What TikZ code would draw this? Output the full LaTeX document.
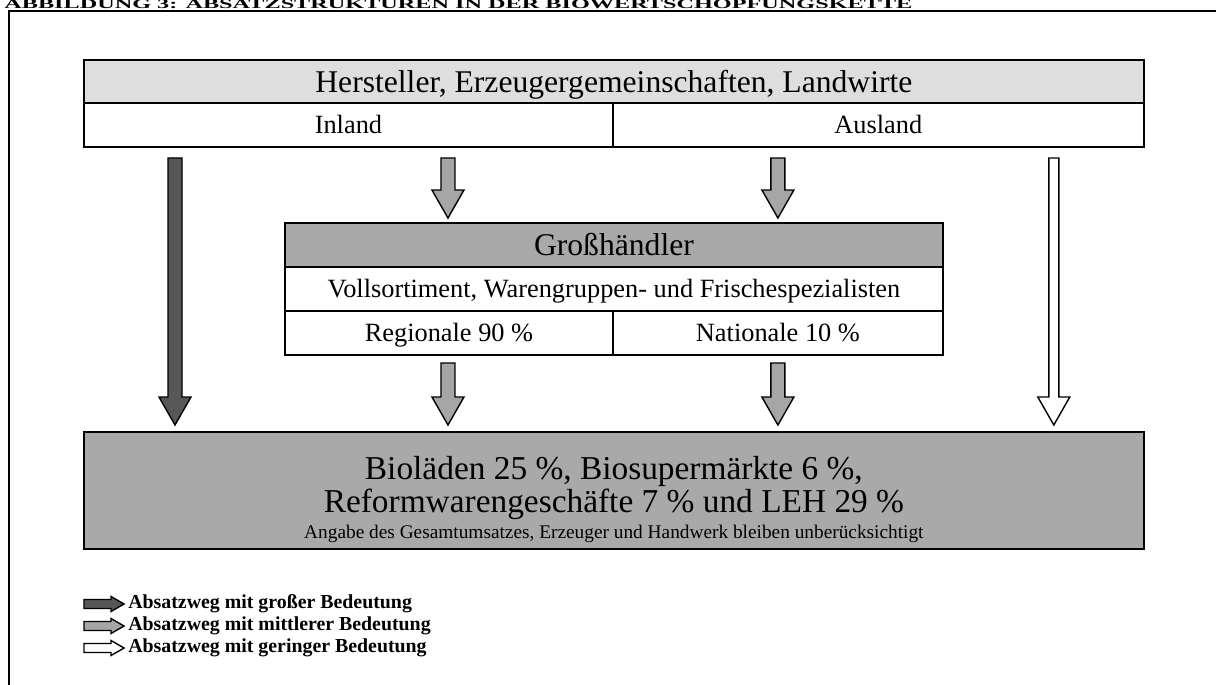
\documentclass[tikz,border=0pt]{standalone}
\usepackage{fontspec}
\setmainfont{Liberation Serif}
\usetikzlibrary{calc}

\definecolor{headgray}{HTML}{DEDEDE}
\definecolor{boxgray}{HTML}{A9A9A9}
\definecolor{darkarrow}{HTML}{575757}
\definecolor{midarrow}{HTML}{A6A6A6}

% block arrow pointing down: fill, half shaft, top, tip
\newcommand{\flowdown}[4]{%
  \filldraw[arrowline, fill=#1] ($(#3)+(-#2,0)$) -- ($(#4)+(-#2,-28)$)
  -- ($(#4)+(-16,-28)$) -- (#4) -- ($(#4)+(16,-28)$)
  -- ($(#4)+(#2,-28)$) -- ($(#3)+(#2,0)$) -- cycle;}
% small block arrow pointing right (legend): fill, tail, tip
\newcommand{\flowright}[3]{%
  \filldraw[arrowline, fill=#1] ($(#2)+(0,-4.5)$) -- ($(#3)+(-13,-4.5)$)
  -- ($(#3)+(-13,-7.5)$) -- (#3) -- ($(#3)+(-13,7.5)$)
  -- ($(#3)+(-13,4.5)$) -- ($(#2)+(0,4.5)$) -- cycle;}

\begin{document}
\begin{tikzpicture}[x=0.02cm, y=-0.02cm,
cell/.style={rectangle, draw=black, line width=1.1pt, inner sep=0pt,
  outer sep=0pt, anchor=north west, minimum height=0.88cm,
  text height=10pt, text depth=0pt,
  font=\fontsize{15}{17}\selectfont},
%
headcell/.style={cell, fill=headgray, text height=12pt,
  font=\fontsize{18}{20}\selectfont},
%
graycell/.style={cell, fill=boxgray, text height=12pt,
  font=\fontsize{18}{20}\selectfont},
%
arrowline/.style={draw=black, line width=0.8pt, line join=miter},
%
legend/.style={anchor=west, inner sep=0pt,
  font=\bfseries\fontsize{11.3}{13}\selectfont}]

\useasboundingbox (0,0) rectangle (1216,684);

\node [anchor=base west, inner sep=0pt, yscale=0.55, transform shape,
  font=\bfseries\fontsize{13.8}{15}\selectfont]
  (title) at (4,8) {ABBILDUNG 3: ABSATZSTRUKTUREN IN DER BIOWERTSCHÖPFUNGSKETTE};
\draw [line width=1.7pt] (1220,11) -- (9,11) -- (9,690);

\begin{scope}
  %%%%%%%%%%%%%%%%%%%%%%%%%%%%%%
  \node [headcell, minimum width=21.2cm, minimum height=0.86cm] (hersteller)
    at (84,60) {Hersteller, Erzeugergemeinschaften, Landwirte};
  \node [cell, minimum width=10.58cm] (inland) at (hersteller.south west) {Inland};
  \node [cell, minimum width=10.62cm] (ausland) at (inland.north east) {Ausland};
  %%%%%%%%%%%%%%%%%%%%%%%%%%%%%%
  \node [graycell, minimum width=13.16cm] (gross) at (285,223) {Großhändler};
  \node [cell, minimum width=13.16cm] (sortiment) at (gross.south west)
    {Vollsortiment, Warengruppen- und Frischespezialisten};
  \node [cell, minimum width=6.56cm] (regional) at (sortiment.south west)
    {Regionale 90 \%};
  \node [cell, minimum width=6.6cm] (national) at (regional.north east)
    {Nationale 10 \%};
  %%%%%%%%%%%%%%%%%%%%%%%%%%%%%%
  \node [graycell, minimum width=21.2cm, minimum height=2.34cm] (handel)
    at (84,432) {};
  \node [align=center, inner sep=0pt, font=\fontsize{19}{19}\selectfont]
    (handeltext) at ($(handel.center)+(0,9)$)
    {Bioläden 25 \%, Biosupermärkte 6 \%,\\
     Reformwarengeschäfte 7 \% und LEH 29 \%\\[-4pt]
     \fontsize{11}{14}\selectfont Angabe des Gesamtumsatzes, Erzeuger und
     Handwerk bleiben unberücksichtigt};
\end{scope}

\begin{scope}
  \coordinate (d1) at ($(inland.south west)+(91,11)$);
  \coordinate (d2) at ($(handel.north west)+(91,-7)$);
  \coordinate (r1) at ($(regional.center |- inland.south)+(-1,11)$);
  \coordinate (r2) at ($(regional.center |- gross.north)+(-1,-5)$);
  \coordinate (n1) at ($(national.center |- ausland.south)+(0,11)$);
  \coordinate (n2) at ($(national.center |- gross.north)+(0,-5)$);
  \coordinate (r3) at ($(regional.south)+(-1,8)$);
  \coordinate (r4) at ($(regional.south |- handel.north)+(-1,-7)$);
  \coordinate (n3) at ($(national.south)+(0,8)$);
  \coordinate (n4) at ($(national.south |- handel.north)+(0,-7)$);
  \coordinate (w1) at ($(ausland.south east)+(-90,11)$);
  \coordinate (w2) at ($(handel.north east)+(-90,-7)$);
  %%%%%%%%%%%%%%%%%%%%%%%%%%%%%%
  \flowdown{darkarrow}{7}{d1}{d2}
  \flowdown{midarrow}{7}{r1}{r2}
  \flowdown{midarrow}{7}{n1}{n2}
  \flowdown{midarrow}{7}{r3}{r4}
  \flowdown{midarrow}{7}{n3}{n4}
  \flowdown{white}{5}{w1}{w2}
\end{scope}

\begin{scope}
  \node [legend] (leg1) at (128,604) {Absatzweg mit großer Bedeutung};
  \node [legend] (leg2) at (128,626) {Absatzweg mit mittlerer Bedeutung};
  \node [legend] (leg3) at (128,648) {Absatzweg mit geringer Bedeutung};
  \coordinate (s1) at (84,604);
  \coordinate (s2) at (84,626);
  \coordinate (s3) at (84,648);
  \coordinate (t1) at ($(leg1.west)+(-4,0)$);
  \coordinate (t2) at ($(leg2.west)+(-4,0)$);
  \coordinate (t3) at ($(leg3.west)+(-4,0)$);
  \flowright{darkarrow}{s1}{t1}
  \flowright{midarrow}{s2}{t2}
  \flowright{white}{s3}{t3}
\end{scope}

\end{tikzpicture}
\end{document}
